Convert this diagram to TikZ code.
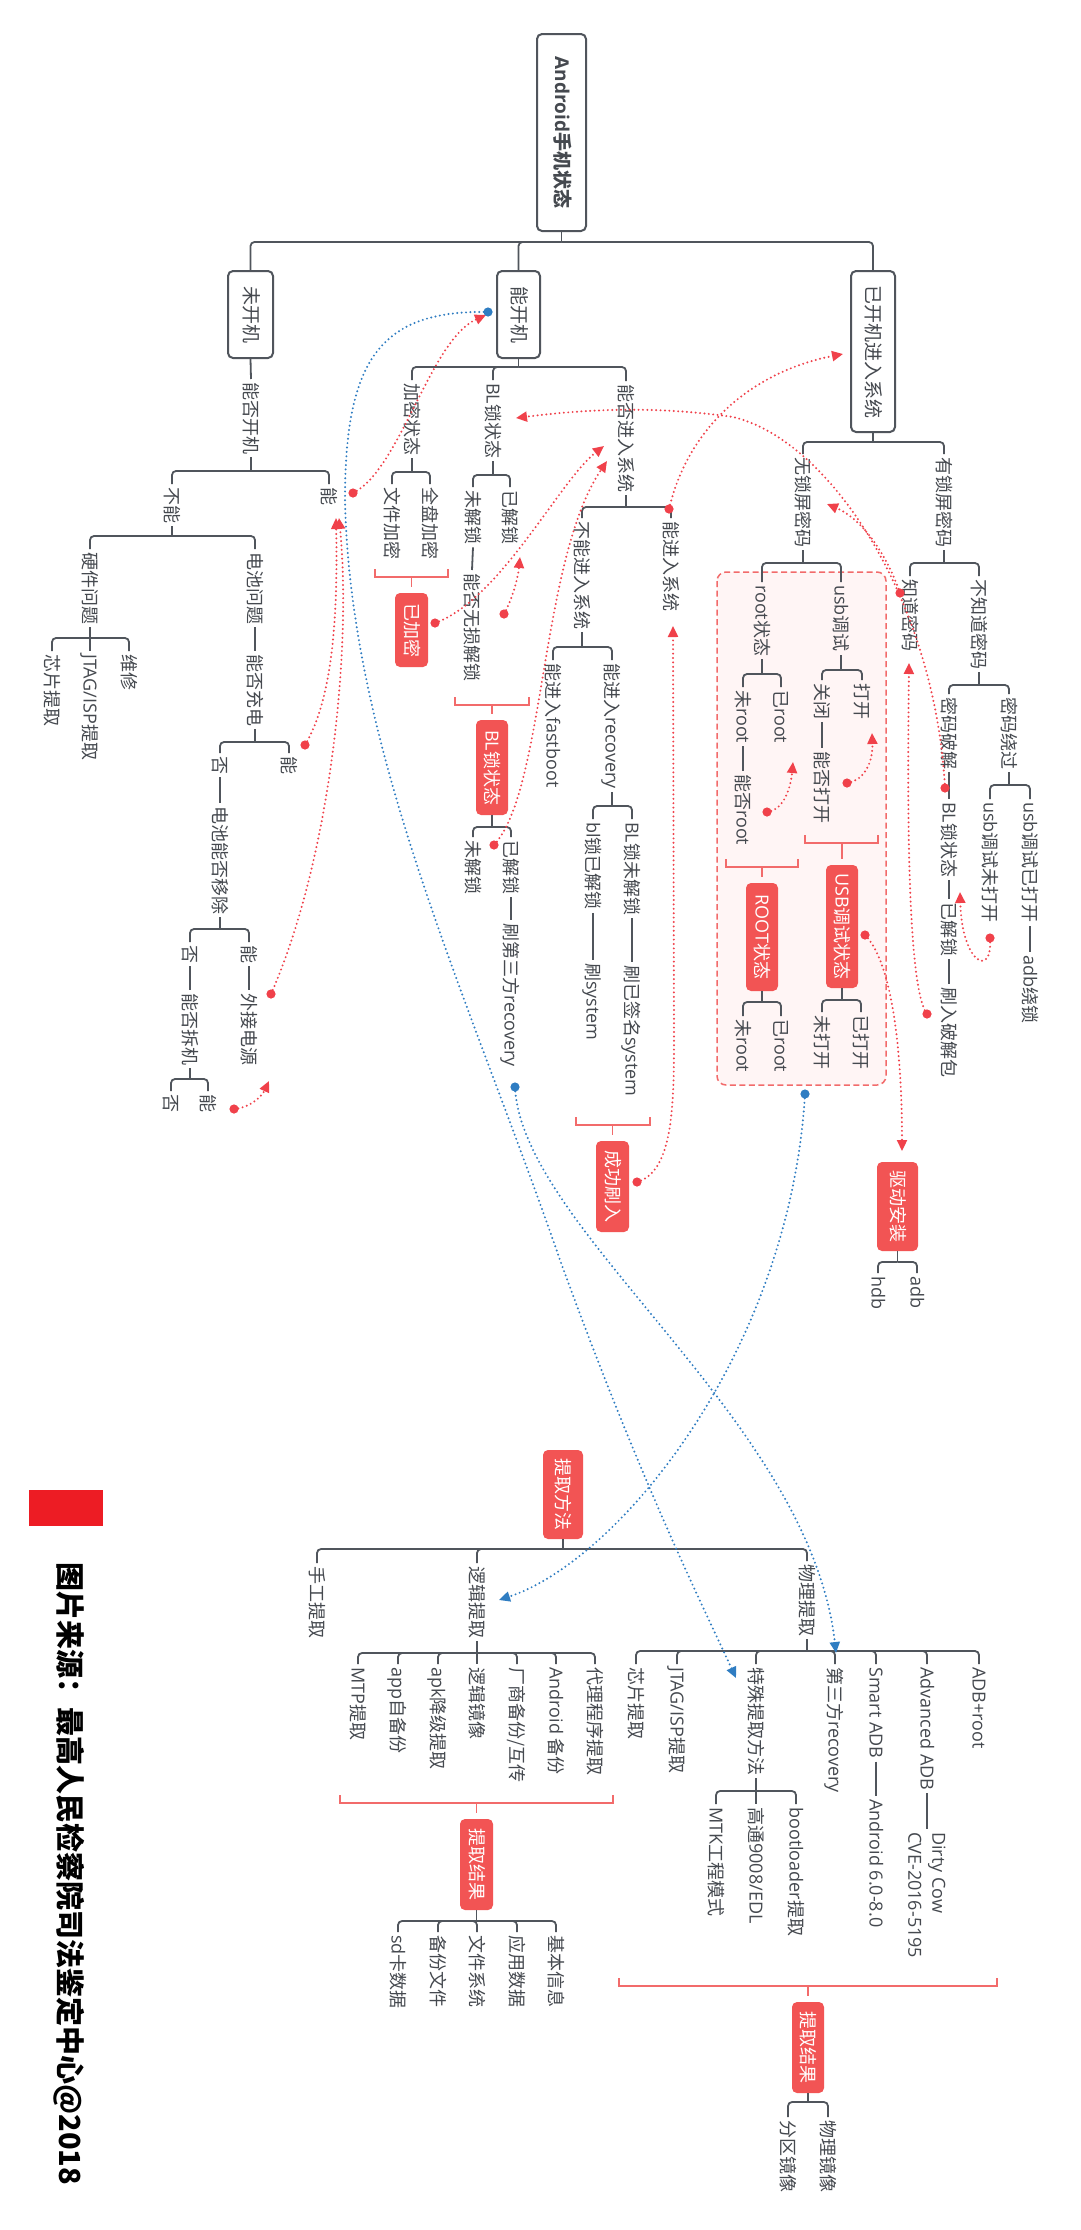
\documentclass[tikz,border=0pt]{standalone}
\usepackage{fontspec}
\setmainfont{Noto Sans CJK SC}
\newfontfamily\latfam{Open Sans}
\newcommand{\Lt}[1]{{\latfam #1}}
\usetikzlibrary{arrows.meta}
\definecolor{lg}{HTML}{50555C}
\definecolor{tg}{HTML}{45494F}
\definecolor{rb}{HTML}{F25454}
\definecolor{rl}{HTML}{F26B6B}
\definecolor{rd}{HTML}{F0414A}
\definecolor{bd}{HTML}{2F7DC2}
\definecolor{pk}{HTML}{FFF5F5}
\definecolor{fr}{HTML}{ED1C24}
\newcommand{\treebr}[3]{%
  \draw[conn] (#1.east) -- (#1.east |- 0,#2);
  \foreach \c in {#3} {\draw[conn] (#1.east |- 0,#2) -| (\c.west);}%
}
\newcommand{\sumbr}[4]{%
  \draw[brk] (#1,#3-8) -- (#1,#3) -- (#2,#3) -- (#2,#3-8);
  \draw[brk] (#4.west |- 0,#3) -- ([yshift=6pt]#4.west);%
}
\begin{document}
\begin{tikzpicture}[x=1pt,y=-1pt,
  t/.style={rotate=-90, anchor=west, inner xsep=3pt, inner ysep=0pt, text height=14pt, text depth=1pt, font=\fontsize{18}{22}\selectfont, text=tg},
  bx/.style={rotate=-90, draw=lg, line width=2pt, rounded corners=5pt, inner sep=0pt, text height=14pt, text depth=1pt, text=tg, font=\fontsize{19}{22}\selectfont},
  rbx/.style={rotate=-90, fill=rb, rounded corners=5pt, inner sep=0pt, text height=14pt, text depth=1pt, text=white, font=\fontsize{18}{22}\selectfont},
  conn/.style={draw=lg, line width=1.8pt, rounded corners=4pt},
  brk/.style={draw=rl, line width=1.6pt},
  rarr/.style={draw=rd, line width=2.2pt, line cap=round, dash pattern=on 0pt off 4.4pt, -{Triangle[length=11pt,width=10pt]}},
  barr/.style={rarr, draw=bd},
]
\fill[white] (0,0) rectangle (1080,2230);
\useasboundingbox (0,0) rectangle (1080,2230);

% dashed group box
\draw[draw=rl, fill=pk, line width=1.5pt, dash pattern=on 6pt off 3.5pt, rounded corners=9pt] (717,572) rectangle (886,1085);

% main boxes
\node[bx, font=\bfseries\fontsize{19}{22}\selectfont, minimum width=197pt, minimum height=49pt] (rt) at (561.5,132.5) {\Lt{Android}手机状态};
\node[bx, minimum width=87pt, minimum height=45pt] (wkj) at (250.5,314.5) {未开机};
\node[bx, minimum width=87pt, minimum height=43pt] (nkj) at (518.5,314.5) {能开机};
\node[bx, minimum width=161pt, minimum height=44pt] (ykj) at (873,351.5) {已开机进入系统};
\treebr{rt}{242}{wkj,nkj,ykj}

% ---------- 未开机 ----------
\node[t] (kj) at (251,379) {能否开机};
\draw[conn] (wkj.east) -- (kj.west);
\node[t] (bn) at (172,484) {不能};
\node[t] (n1) at (329,484) {能};
\treebr{kj}{471}{bn,n1}
\node[t] (yj) at (90,549) {硬件问题};
\node[t] (dc) at (255,549) {电池问题};
\treebr{bn}{536}{yj,dc}
\node[t] (xp1) at (52,651) {芯片提取};
\node[t] (jt1) at (90,651) {\Lt{JTAG/ISP}提取};
\node[t] (wx) at (129,651) {维修};
\treebr{yj}{638}{xp1,jt1,wx}
\node[t] (cd) at (255,651) {能否充电};
\draw[conn] (dc.east) -- (cd.west);
\node[t] (f1) at (220,753) {否};
\node[t] (n2) at (289,753) {能};
\treebr{cd}{742}{f1,n2}
\node[t] (yc) at (220,803) {电池能否移除};
\draw[conn] (f1.east) -- (yc.west);
\node[t] (f2) at (190,942) {否};
\node[t] (n3) at (249,942) {能};
\treebr{yc}{929}{f2,n3}
\node[t] (wjdy) at (249,990) {外接电源};
\draw[conn] (n3.east) -- (wjdy.west);
\node[t] (cj) at (190,990) {能否拆机};
\draw[conn] (f2.east) -- (cj.west);
\node[t] (f3) at (171,1091) {否};
\node[t] (n4) at (208,1091) {能};
\treebr{cj}{1079}{f3,n4}

% ---------- 能开机 ----------
\node[t] (jm) at (412,380) {加密状态};
\node[t] (bl1) at (493,380) {\Lt{BL}锁状态};
\node[t] (jrxt) at (626,381) {能否进入系统};
\treebr{nkj}{367}{jm,bl1,jrxt}
\node[t] (wjjm) at (392,484) {文件加密};
\node[t] (qpjm) at (430,484) {全盘加密};
\treebr{jm}{472}{wjjm,qpjm}
\node[rbx, minimum width=74pt, minimum height=33pt] (yjm) at (411.5,630) {已加密};
\sumbr{375}{448}{577}{yjm}
\node[t] (wjs1) at (473,487) {未解锁};
\node[t] (yjs1) at (510,487) {已解锁};
\treebr{bl1}{475}{wjs1,yjs1}
\node[t] (wsjs) at (472,570) {能否无损解锁};
\draw[conn] (wjs1.east) -- (wsjs.west);
\node[rbx, minimum width=95pt, minimum height=32pt] (blbox) at (492,767.5) {\Lt{BL}锁状态};
\sumbr{455}{529}{705}{blbox}
\node[t] (wjs2) at (473,837) {未解锁};
\node[t] (yjs2) at (511,837) {已解锁};
\treebr{blbox}{827}{wjs2,yjs2}
\node[t] (sdsf) at (511,920) {刷第三方\Lt{recovery}};
\draw[conn] (yjs2.east) -- (sdsf.west);
\node[t] (bnjr) at (582,518) {不能进入系统};
\node[t] (njr) at (671,518) {能进入系统};
\treebr{jrxt}{507}{bnjr,njr}
\node[t] (fb) at (553,660) {能进入\Lt{fastboot}};
\node[t] (rec) at (612,660) {能进入\Lt{recovery}};
\treebr{bnjr}{647}{fb,rec}
\node[t] (blyjs) at (593,819) {\Lt{bl}锁已解锁};
\node[t] (blwjs) at (632,819) {\Lt{BL}锁未解锁};
\treebr{rec}{806}{blyjs,blwjs}
\node[t] (ssys) at (593,960) {刷\Lt{system}};
\node[t] (sqm) at (632,962) {刷已签名\Lt{system}};
\draw[conn] (blyjs.east) -- (ssys.west);
\draw[conn] (blwjs.east) -- (sqm.west);
\node[rbx, minimum width=91pt, minimum height=33pt] (cgsr) at (612.5,1186.5) {成功刷入};
\sumbr{576}{650}{1125}{cgsr}

% ---------- 已开机进入系统 ----------
\node[t] (wsp) at (803,454) {无锁屏密码};
\node[t] (ysp) at (944,454) {有锁屏密码};
\treebr{ykj}{442}{wsp,ysp}
\node[t] (rootst) at (762,582) {\Lt{root}状态};
\node[t] (usb) at (841,582) {\Lt{usb}调试};
\treebr{wsp}{563}{rootst,usb}
\node[t] (gb) at (822,680) {关闭};
\node[t] (dk) at (862,680) {打开};
\treebr{usb}{670}{gb,dk}
\node[t] (nfdk) at (822,748) {能否打开};
\draw[conn] (gb.east) -- (nfdk.west);
\node[rbx, minimum width=123pt, minimum height=32pt] (usbbox) at (842,926.5) {\Lt{USB}调试状态};
\sumbr{805}{878}{843}{usbbox}
\node[t] (wdk) at (822,1012) {未打开};
\node[t] (ydk) at (861,1012) {已打开};
\treebr{usbbox}{1000}{wdk,ydk}
\node[t] (wr1) at (743,687) {未\Lt{root}};
\node[t] (yr1) at (781,687) {已\Lt{root}};
\treebr{rootst}{674}{wr1,yr1}
\node[t] (nfroot) at (743,771) {能否\Lt{root}};
\draw[conn] (wr1.east) -- (nfroot.west);
\node[rbx, minimum width=108pt, minimum height=32pt] (rootbox) at (762,937) {\Lt{ROOT}状态};
\sumbr{726}{798}{867}{rootbox}
\node[t] (wr2) at (743,1016) {未\Lt{root}};
\node[t] (yr2) at (781,1016) {已\Lt{root}};
\treebr{rootbox}{1002}{wr2,yr2}
\node[t] (zdmm) at (910,576) {知道密码};
\node[t] (bzd) at (979,576) {不知道密码};
\treebr{ysp}{563}{zdmm,bzd}
\node[t] (mmpj) at (949,694) {密码破解};
\node[t] (mmrg) at (1009,694) {密码绕过};
\treebr{bzd}{685}{mmpj,mmrg}
\node[t] (bl3) at (949,799) {\Lt{BL}锁状态};
\node[t] (yjs3) at (949,899) {已解锁};
\node[t] (srpj) at (949,984) {刷入破解包};
\draw[conn] (mmpj.east) -- (bl3.west);
\draw[conn] (bl3.east) -- (yjs3.west);
\draw[conn] (yjs3.east) -- (srpj.west);
\node[t] (usbw) at (990,799) {\Lt{usb}调试未打开};
\node[t] (usby) at (1030,799) {\Lt{usb}调试已打开};
\treebr{mmrg}{785}{usbw,usby}
\node[t] (adbrs) at (1030,952) {\Lt{adb}绕锁};
\draw[conn] (usby.east) -- (adbrs.west);
\node[rbx, minimum width=89pt, minimum height=41pt] (qdaz) at (897.5,1206.5) {驱动安装};
\node[t] (hdb) at (878,1273) {\Lt{hdb}};
\node[t] (adb) at (917,1273) {\Lt{adb}};
\treebr{qdaz}{1262}{hdb,adb}

% ---------- 提取方法 ----------
\node[rbx, minimum width=89pt, minimum height=40pt] (tqff) at (563,1494.5) {提取方法};
\node[t] (sg) at (317,1563) {手工提取};
\node[t] (lj) at (477,1563) {逻辑提取};
\node[t] (wl) at (807,1561) {物理提取};
\treebr{tqff}{1549}{sg,lj,wl}
\node[t] (mtp) at (358,1664) {\Lt{MTP}提取};
\node[t] (appb) at (398,1664) {\Lt{app}自备份};
\node[t] (apk) at (438,1664) {\Lt{apk}降级提取};
\node[t] (ljjx) at (477,1664) {逻辑镜像};
\node[t] (cs) at (517,1664) {厂商备份/互传};
\node[t] (adbk) at (556,1664) {\Lt{Android} 备份};
\node[t] (dl) at (595,1664) {代理程序提取};
\treebr{lj}{1653}{mtp,appb,apk,ljjx,cs,adbk,dl}
\node[rbx, minimum width=91pt, minimum height=33pt] (tqjg1) at (476.5,1864.5) {提取结果};
\sumbr{340}{613}{1803}{tqjg1}
\node[t] (sdk) at (398,1932) {\Lt{sd}卡数据};
\node[t] (bfwj) at (438,1932) {备份文件};
\node[t] (wjxt) at (477,1932) {文件系统};
\node[t] (yysj) at (517,1932) {应用数据};
\node[t] (jbxx) at (556,1932) {基本信息};
\treebr{tqjg1}{1921}{sdk,bfwj,wjxt,yysj,jbxx}
\node[t] (xp2) at (636,1664) {芯片提取};
\node[t] (jt2) at (677,1664) {\Lt{JTAG/ISP}提取};
\node[t] (tsff) at (756,1664) {特殊提取方法};
\node[t] (dsf) at (835,1664) {第三方\Lt{recovery}};
\node[t] (sadb) at (876,1664) {\Lt{Smart ADB}};
\node[t] (aadb) at (927,1664) {\Lt{Advanced ADB}};
\node[t] (adbr) at (979,1664) {\Lt{ADB+root}};
\treebr{wl}{1651}{xp2,jt2,tsff,dsf,sadb,aadb,adbr}
\node[t] (mtk) at (716,1804) {\Lt{MTK}工程模式};
\node[t] (gt) at (756,1804) {高通\Lt{9008/EDL}};
\node[t] (bl4) at (796,1804) {\Lt{bootloader}提取};
\treebr{tsff}{1791}{mtk,gt,bl4}
\node[t] (a608) at (876,1796) {\Lt{Android 6.0-8.0}};
\draw[conn] (sadb.east) -- (a608.west);
\node[rotate=-90, anchor=west, inner xsep=3pt, inner ysep=0pt, align=left, font=\latfam\fontsize{18}{24}\selectfont, text=tg] (dcow) at (927,1829) {Dirty Cow\\CVE-2016-5195};
\draw[conn] (aadb.east) -- (dcow.west);
\node[rbx, minimum width=91pt, minimum height=32pt] (tqjg2) at (808,2047.5) {提取结果};
\sumbr{619}{997}{1986}{tqjg2}
\node[t] (fq) at (788,2117) {分区镜像};
\node[t] (wljx) at (828,2117) {物理镜像};
\treebr{tqjg2}{2102}{fq,wljx}

% ---------- footer ----------
\fill[fr] (29,1490) rectangle (103,1526);
\node[rotate=-90, anchor=west, inner sep=0pt, text height=24pt, text depth=2pt, font=\bfseries\fontsize{29}{32}\selectfont, text=black] (foot) at (70,1562) {图片来源：最高人民检察院司法鉴定中心@2018};

% ---------- red dotted arrows ----------
\coordinate (r1s) at (353,493);  \coordinate (r1e) at (486,315);
\coordinate (r2s) at (305,745);  \coordinate (r2e) at (336,518);
\coordinate (r3s) at (271,994);  \coordinate (r3e) at (339,518);
\coordinate (r4s) at (234,1109); \coordinate (r4e) at (269,1081);
\coordinate (r5s) at (435,623);  \coordinate (r5e) at (604,446);
\coordinate (r6s) at (494,845);  \coordinate (r6e) at (607,461);
\coordinate (r7s) at (504,614);  \coordinate (r7e) at (520,557);
\coordinate (r8s) at (945,788);  \coordinate (r8e) at (516,418);
\coordinate (r9s) at (900,593);  \coordinate (r9e) at (827,504);
\coordinate (r10s) at (927,1014); \coordinate (r10e) at (909,663);
\coordinate (r11s) at (990,938);  \coordinate (r11e) at (960,892);
\coordinate (r12s) at (847,783);  \coordinate (r12e) at (872,733);
\coordinate (r13s) at (767,812);  \coordinate (r13e) at (793,762);
\coordinate (r14s) at (865,935);  \coordinate (r14e) at (902,1151);
\coordinate (r15s) at (669,509);  \coordinate (r15e) at (843,354);
\coordinate (r16s) at (637,1182); \coordinate (r16e) at (673,626);
\draw[rarr] (r1s) .. controls (400,470) and (430,340) .. (r1e);
\draw[rarr] (r2s) .. controls (332,700) and (338,620) .. (r2e);
\draw[rarr] (r3s) .. controls (330,860) and (352,650) .. (r3e);
\draw[rarr] (r4s) .. controls (250,1108) and (262,1096) .. (r4e);
\draw[rarr] (r5s) .. controls (500,600) and (560,480) .. (r5e);
\draw[rarr] (r6s) .. controls (545,790) and (540,560) .. (r6e);
\draw[rarr] (r7s) .. controls (512,600) and (518,578) .. (r7e);
\draw[rarr] (r8s) .. controls (935,600) and (830,440) .. (733,417) .. controls (650,405) and (580,410) .. (r8e);
\draw[rarr] (r9s) .. controls (885,550) and (860,518) .. (r9e);
\draw[rarr] (r10s) .. controls (905,985) and (908,760) .. (r10e);
\draw[rarr] (r11s) .. controls (993,978) and (962,965) .. (r11e);
\draw[rarr] (r12s) .. controls (866,780) and (873,760) .. (r12e);
\draw[rarr] (r13s) .. controls (785,810) and (791,785) .. (r13e);
\draw[rarr] (r14s) .. controls (892,962) and (902,1050) .. (r14e);
\draw[rarr] (r15s) .. controls (690,420) and (760,370) .. (r15e);
\draw[rarr] (r16s) .. controls (672,1172) and (674,1110) .. (674,1040) -- (r16e);
\foreach \p in {r1s,r2s,r3s,r4s,r5s,r6s,r7s,r8s,r9s,r10s,r11s,r12s,r13s,r14s,r15s,r16s} {\fill[rd] (\p) circle (4.6pt);}

% ---------- blue dotted arrows ----------
\coordinate (b1s) at (488,312);  \coordinate (b1e) at (736,1678);
\coordinate (b2s) at (515,1087); \coordinate (b2e) at (836,1653);
\coordinate (b3s) at (805,1094); \coordinate (b3e) at (499,1600);
\draw[barr] (b1s) .. controls (380,310) and (345,360) .. (345,500) .. controls (350,750) and (470,1000) .. (560,1260) .. controls (640,1480) and (700,1600) .. (b1e);
\draw[barr] (b2s) .. controls (522,1230) and (810,1420) .. (b2e);
\draw[barr] (b3s) .. controls (790,1350) and (620,1560) .. (b3e);
\foreach \p in {b1s,b2s,b3s} {\fill[bd] (\p) circle (4.6pt);}
\end{tikzpicture}
\end{document}
